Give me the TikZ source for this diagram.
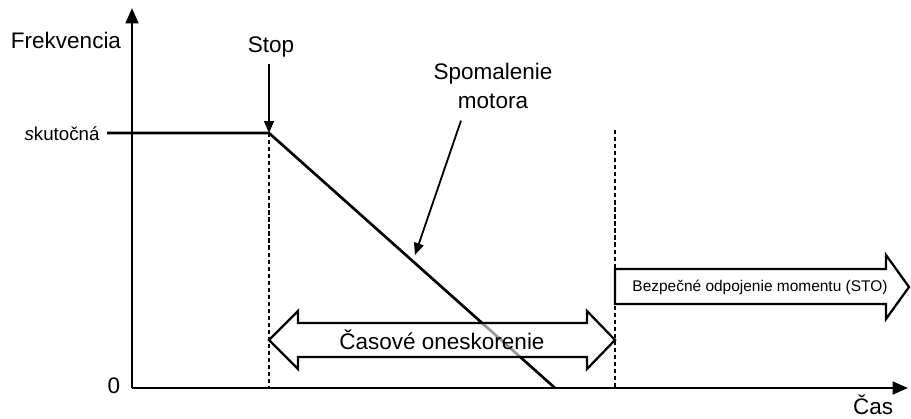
\documentclass[tikz,border=0pt]{standalone}
\usepackage{fontspec}
\setmainfont{Liberation Sans}
\usetikzlibrary{arrows.meta}
\begin{document}
\begin{tikzpicture}[x=0.025cm, y=-0.025cm]
    \tikzstyle{axis} = [line width=2pt, -{Triangle[length=11pt, width=9pt]}];
    \tikzstyle{curve} = [line width=1.9pt];
    \tikzstyle{pointer} = [line width=1.3pt, -{Triangle[length=8.5pt, width=7pt]}];
    \tikzstyle{guide} = [line width=0.8pt, dash pattern=on 3pt off 2pt];
    \tikzstyle{bigarrow} = [draw, line width=1.6pt, fill=white, fill opacity=0.6, line join=miter];
    \tikzstyle{txt} = [font=\fontsize{16}{20}\selectfont, inner sep=0pt];
    \tikzstyle{smalltxt} = [font=\fontsize{13.3}{16}\selectfont, inner sep=0pt];

    \useasboundingbox (0,0) rectangle (911,419);

    \coordinate (origin) at (132,388);
    \coordinate (ytop) at (132,8);
    \coordinate (xend) at (908,388);
    \coordinate (lvl) at (107,133);
    \coordinate (knee) at (269,133);
    \coordinate (stopped) at (555,388);
    \coordinate (sto) at (615,130);
    \coordinate (slope) at (415,255);

    \draw [guide] (knee) -- (knee |- origin);
    \draw [guide] (sto) -- (sto |- origin);

    \draw [curve] (lvl) -- (knee) -- (stopped);

    \draw [bigarrow] (knee |- 0,340) -- ++(29,-29) -- ++(0,12) -- (587,323) -- ++(0,-12)
        -- (sto |- 0,340) -- (587,369) -- ++(0,-12) -- (298,357) -- ++(0,12) -- cycle;
    \draw [bigarrow] (615,269) -- (886,269) -- (886,255) -- (909,287) -- (886,319)
        -- (886,304) -- (615,304) -- cycle;

    \draw [axis] (origin) -- (ytop);
    \draw [axis] (origin) -- (xend);

    \node (freq) [txt] at (66,40) {Frekvencia};
    \node (time) [txt] at (873,405) {Čas};
    \node (zero) [txt] at (114,386) {0};
    \node (actual) [smalltxt] at (62,134) {\textit{s}kutočná};
    \node (stop) [txt] at (271,47) {Stop};
    \node (decel) [txt, align=center] at (493,86) {Spomalenie\\motora};
    \node (delay) [txt] at (442,340) {Časové oneskorenie};
    \node (safe) [font=\fontsize{11}{13}\selectfont, inner sep=0pt] at (760,287) {Bezpečné odpojenie momentu (STO)};

    \draw [pointer] (stop.south) ++(-2,7) -- (knee);
    \draw [pointer] (decel.south) ++(-32,12) -- (slope);
\end{tikzpicture}
\end{document}
